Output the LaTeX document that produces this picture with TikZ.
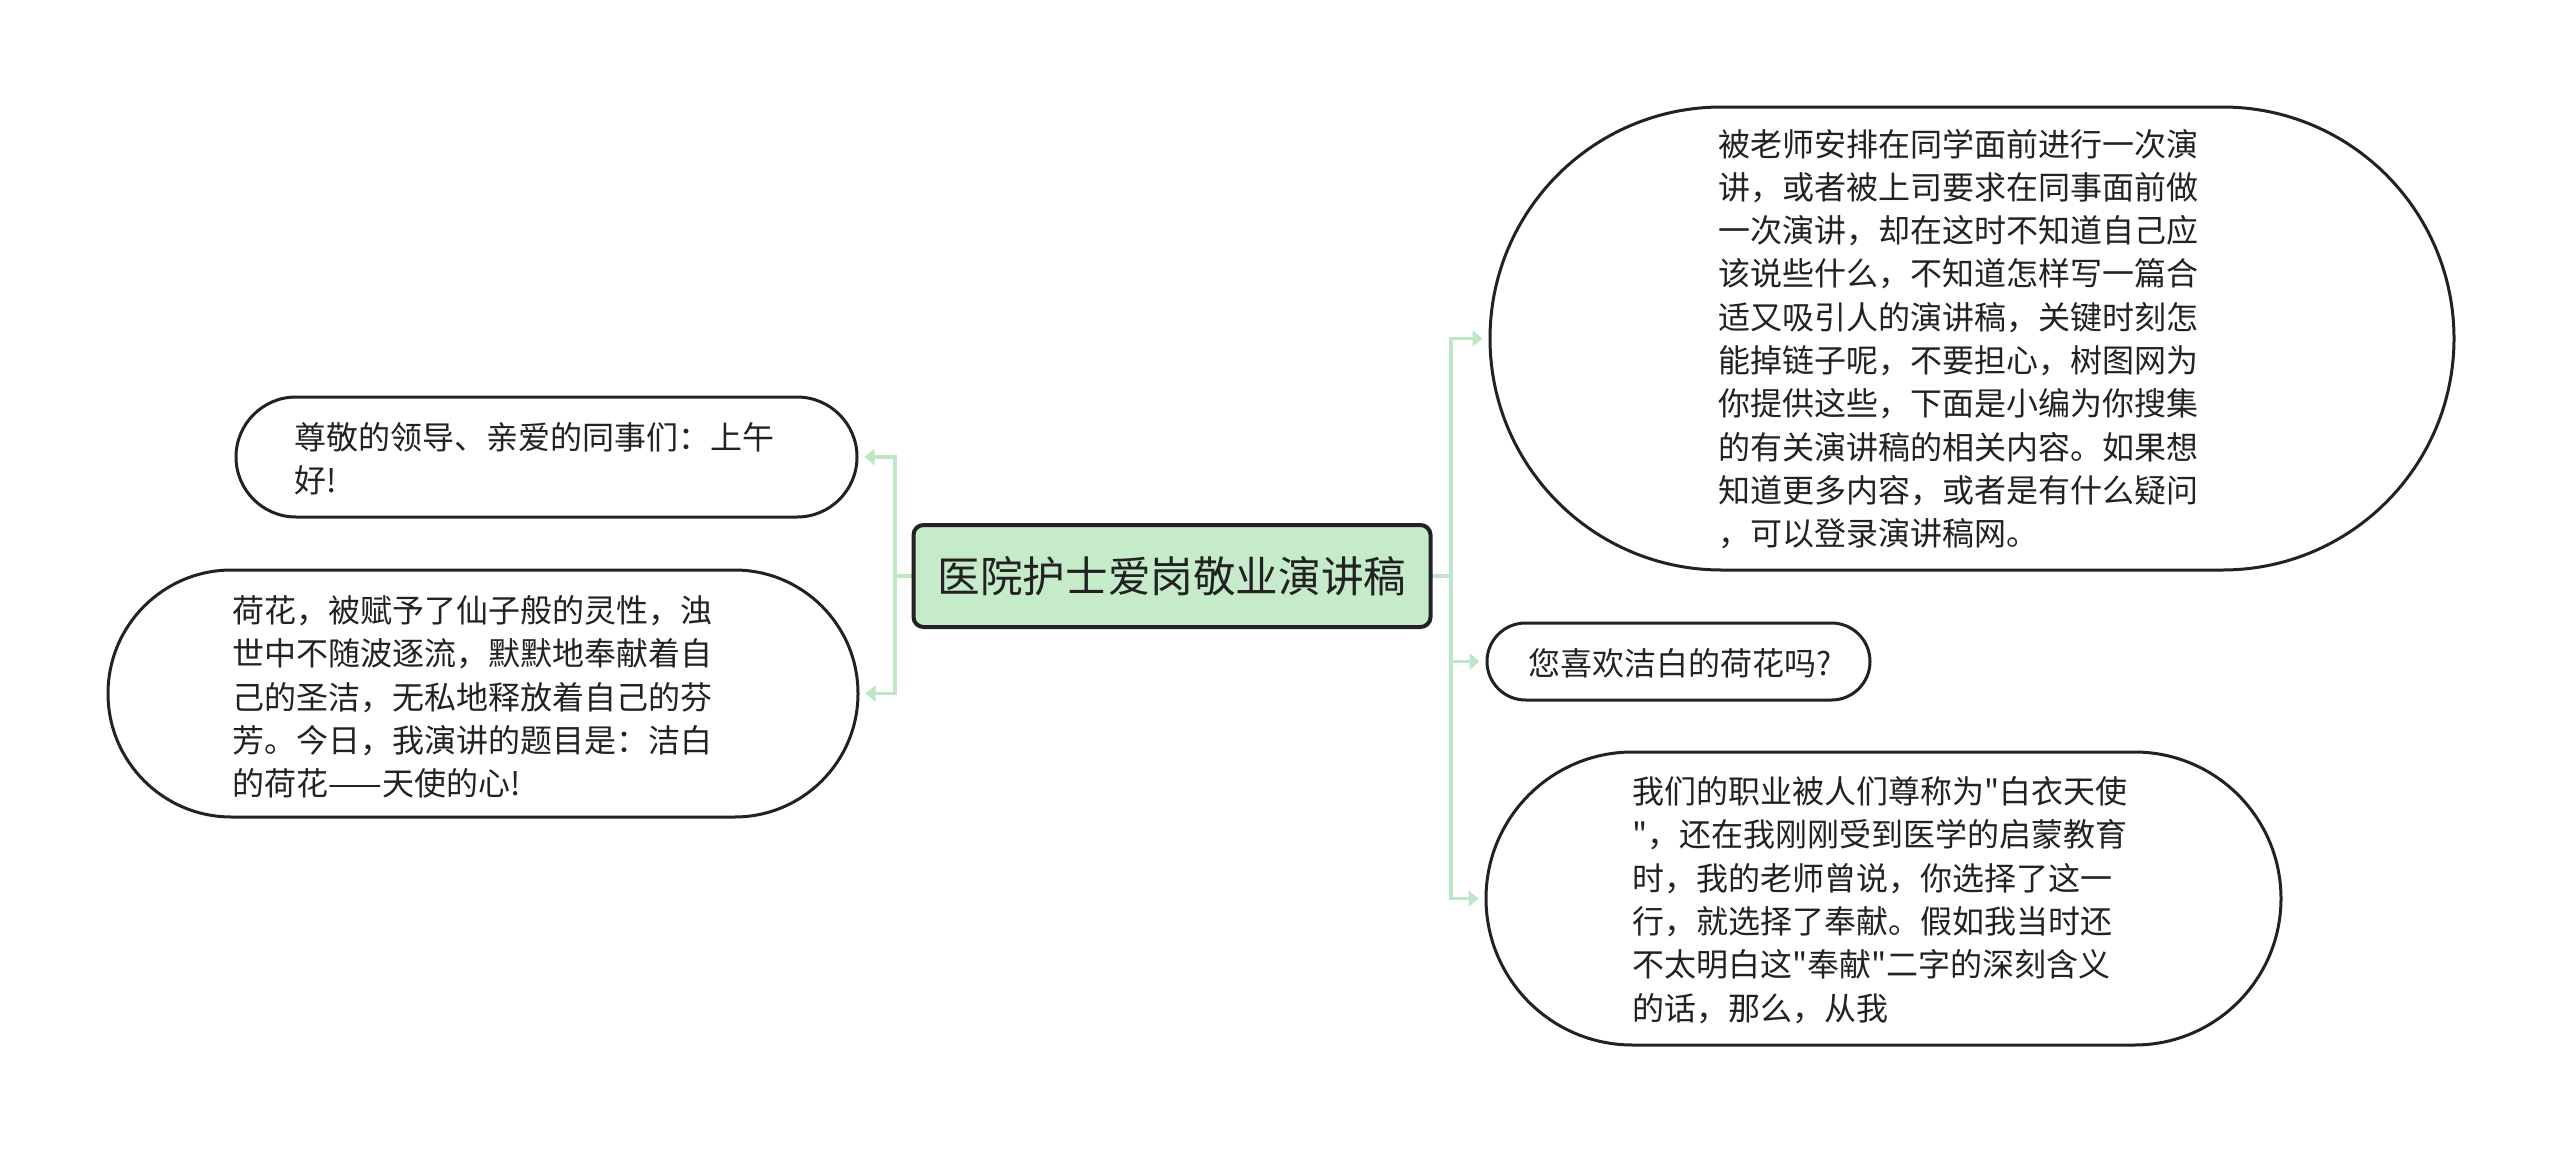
\documentclass[tikz,border=0pt]{standalone}
\usepackage{fontspec}
\setmainfont{Noto Sans CJK SC}
\newfontfamily\cjk{Noto Sans CJK SC}
\usetikzlibrary{shapes.misc,arrows.meta}
\definecolor{cfill}{HTML}{C6EBCB}
\definecolor{lgreen}{HTML}{BFE6C6}
\definecolor{ink}{HTML}{222222}
\tikzset{
  centralbox/.style={draw=ink, line width=2pt, fill=cfill, rounded corners=5pt,
    minimum width=258.5pt, minimum height=51pt, inner sep=0pt,
    font=\cjk\fontsize{21.3}{25}\selectfont, text=ink},
  bubble/.style={rounded rectangle, draw=ink, line width=1.5pt, fill=white, inner sep=0pt},
  txt/.style={font=\cjk\fontsize{16}{21.65}\selectfont, align=left, inner sep=0pt, text=ink, anchor=west},
  trunk/.style={draw=lgreen, line width=1.7pt},
  conn/.style={draw=lgreen, line width=1.7pt, -{Triangle[length=5pt,width=8pt]}, shorten >=3pt}
}
\begin{document}
\begin{tikzpicture}[x=0.5pt,y=-0.5pt]
\useasboundingbox (0,0) rectangle (2560,1151);
\fill[white] (0,0) rectangle (2560,1151);

% shapes
\node[bubble, minimum width=310.5pt, minimum height=60pt] (l1) at (546.5,457) {};
\node[bubble, minimum width=375pt, minimum height=123.5pt] (l2) at (483,693.5) {};
\node[bubble, minimum width=482pt, minimum height=231.5pt] (r1) at (1972,338.5) {};
\node[bubble, minimum width=191.5pt, minimum height=38.5pt] (r2) at (1678.5,661.5) {};
\node[bubble, minimum width=397.5pt, minimum height=146.5pt] (r3) at (1883.5,898.5) {};

\coordinate (lt) at (895,576);
\coordinate (rt) at (1451,576);

% connectors
\draw[trunk] (lt) -- (1172,576);
\draw[trunk] (1172,576) -- (rt);
\draw[conn] (lt) |- (l1.east);
\draw[conn] (lt) |- (l2.east);
\draw[conn] (rt) |- (r1.west);
\draw[conn] (rt) |- (r2.west);
\draw[conn] (rt) |- (r3.west);

\node[centralbox] (c) at (1172,576) {医院护士爱岗敬业演讲稿};

% texts
\node[txt] (l1t) at (294,458.5) {尊敬的领导、亲爱的同事们：上午\\好!};
\node[txt] (l2t) at (232,697) {荷花，被赋予了仙子般的灵性，浊\\世中不随波逐流，默默地奉献着自\\己的圣洁，无私地释放着自己的芬\\芳。今日，我演讲的题目是：洁白\\的荷花——天使的心!};
\node[txt] (r1t) at (1718,339) {被老师安排在同学面前进行一次演\\讲，或者被上司要求在同事面前做\\一次演讲，却在这时不知道自己应\\该说些什么，不知道怎样写一篇合\\适又吸引人的演讲稿，关键时刻怎\\能掉链子呢，不要担心，树图网为\\你提供这些，下面是小编为你搜集\\的有关演讲稿的相关内容。如果想\\知道更多内容，或者是有什么疑问\\，可以登录演讲稿网。};
\node[txt] (r2t) at (1528,663) {您喜欢洁白的荷花吗?};
\node[txt] (r3t) at (1632,900) {我们的职业被人们尊称为"白衣天使\\"，还在我刚刚受到医学的启蒙教育\\时，我的老师曾说，你选择了这一\\行，就选择了奉献。假如我当时还\\不太明白这"奉献"二字的深刻含义\\的话，那么，从我};
\end{tikzpicture}
\end{document}
